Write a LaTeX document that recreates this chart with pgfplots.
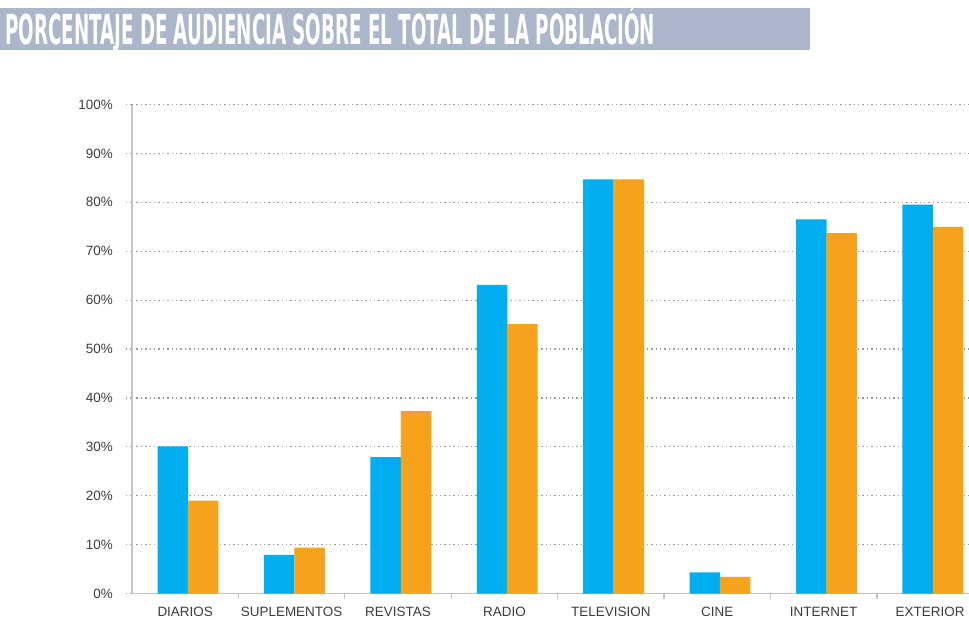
\documentclass[border=0pt]{standalone}
\usepackage{fontspec}
\setmainfont{Liberation Sans}
\newfontfamily\titlefont{DejaVu Sans Condensed}
\usepackage{graphicx}
\usepackage{pgfplots}
\pgfplotsset{compat=1.18}
\definecolor{cblue}{HTML}{00AEEF}
\definecolor{corange}{HTML}{F7A21C}
\definecolor{axisgrey}{HTML}{C4C4C4}
\definecolor{gridgrey}{HTML}{9A9A9A}
\definecolor{banner}{HTML}{ABB6CB}
\definecolor{txt}{HTML}{3C3C3C}
\begin{document}
\begin{tikzpicture}
\path[use as bounding box] (0,0) rectangle (726.75pt,464.25pt);
\fill[banner] (0,426.75pt) rectangle (607.5pt,458.25pt);
\node[anchor=base west, inner sep=0pt, text=white] at (3.75pt,430.5pt)
  {\resizebox{487.5pt}{\height}{\titlefont\bfseries\fontsize{31pt}{32pt}\selectfont PORCENTAJE DE AUDIENCIA SOBRE EL TOTAL DE LA POBLACIÓN}};
\begin{axis}[
  at={(99pt,19.125pt)}, anchor=south west,
  scale only axis, width=627.75pt, height=366.75pt,
  xmin=-0.5, xmax=7.366, ymin=0, ymax=100,
  axis x line*=bottom, axis y line*=left,
  axis line style={axisgrey, line width=1.1pt, -},
  ybar=0pt, bar width=22.875pt,
  xtick={0,...,7},
  xticklabels={DIARIOS,SUPLEMENTOS,REVISTAS,RADIO,TELEVISION,CINE,INTERNET,EXTERIOR},
  minor xtick={0.5,1.5,...,6.5},
  ytick={0,10,...,100},
  yticklabels={0\%,10\%,20\%,30\%,40\%,50\%,60\%,70\%,80\%,90\%,100\%},
  tick align=outside,
  major tick length=4.5pt, minor tick length=3.75pt,
  major x tick style={draw=none},
  minor x tick style={axisgrey, line width=1pt},
  major y tick style={gridgrey, dash pattern=on 1.1pt off 2.2pt, line width=0.9pt},
  ymajorgrids,
  major grid style={gridgrey, dash pattern=on 1.1pt off 2.2pt, line width=0.9pt},
  tick label style={font=\fontsize{10.1pt}{12pt}\selectfont, text=txt},
  yticklabel style={anchor=east, inner sep=0pt, xshift=-9.75pt},
  xticklabel style={anchor=base, inner sep=0pt, yshift=-12.9pt},
]
\addplot[fill=cblue, draw=none, bar shift=-9.3pt] coordinates
  {(0,30.1)(1,7.9)(2,27.9)(3,63.1)(4,84.7)(5,4.3)(6,76.5)(7,79.5)};
\addplot[fill=corange, draw=none, bar shift=13.5pt] coordinates
  {(0,19.0)(1,9.4)(2,37.3)(3,55.1)(4,84.7)(5,3.4)(6,73.7)(7,75.0)};
\end{axis}
\end{tikzpicture}
\end{document}
